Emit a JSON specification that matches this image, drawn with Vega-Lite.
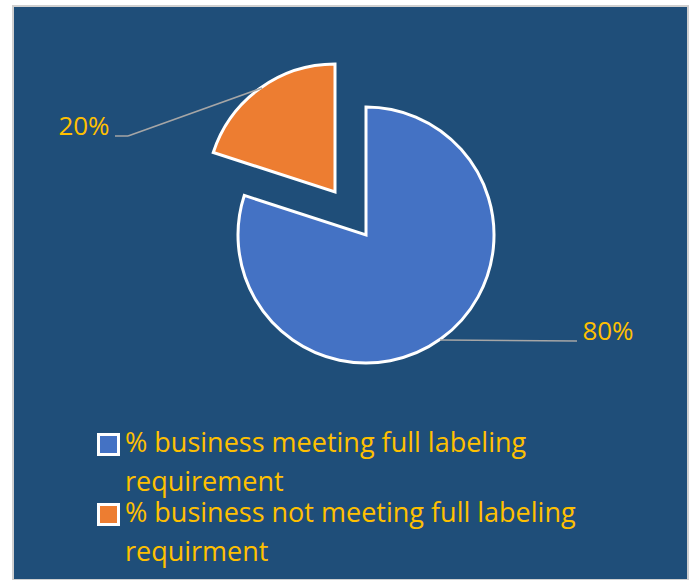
{
  "$schema": "https://vega.github.io/schema/vega-lite/v6.json",
  "width": 696,
  "height": 580,
  "autosize": {"type": "fit", "contains": "padding"},
  "padding": {"left": 13, "top": 6, "right": 8, "bottom": 0},
  "background": "white",
  "config": {
    "view": {"fill": "#1F4E79", "stroke": "#D0D0D0", "strokeWidth": 2},
    "font": "Open Sans"
  },
  "data": {
    "values": [
      {"category": "% business meeting full labeling requirement", "value": 80},
      {"category": "% business not meeting full labeling requirment", "value": 20}
    ]
  },
  "transform": [{"stack": "value", "groupby": [], "as": ["v0", "v1"]}],
  "layer": [
    {
      "transform": [{"filter": "datum.value == 80"}],
      "mark": {"type": "arc", "radius": 128, "stroke": "white", "strokeWidth": 3, "xOffset": 15.5, "yOffset": -58},
      "encoding": {
        "theta": {"field": "v0", "type": "quantitative", "scale": {"domain": [0, 100]}},
        "theta2": {"field": "v1"},
        "color": {
          "field": "category", "type": "nominal",
          "scale": {
            "domain": ["% business meeting full labeling requirement", "% business not meeting full labeling requirment"],
            "range": ["#4472C4", "#ED7D31"]
          },
          "legend": {
            "orient": "none", "legendX": 82, "legendY": 425,
            "title": null,
            "symbolType": "square", "symbolSize": 400,
            "symbolStrokeColor": "white", "symbolStrokeWidth": 3, "symbolOpacity": 1,
            "labelFont": "Open Sans", "labelFontSize": 27, "labelColor": "#FFC000",
            "labelLimit": 1000, "labelOffset": 3,
            "labelBaseline": "top",
            "labelExpr": "split(replace(datum.label, 'labeling ', 'labeling|'), '|')",
            "rowPadding": 2,
            "encode": {"labels": {"update": {"lineHeight": {"value": 39}, "dy": {"value": -14}}}}
          }
        }
      }
    },
    {
      "transform": [{"filter": "datum.value == 20"}],
      "mark": {"type": "arc", "radius": 128, "stroke": "white", "strokeWidth": 3, "xOffset": -15.5, "yOffset": -101},
      "encoding": {
        "theta": {"field": "v0", "type": "quantitative"},
        "theta2": {"field": "v1"},
        "color": {"field": "category", "type": "nominal"}
      }
    },
    {
      "transform": [{"filter": "datum.value == 80"}],
      "mark": {"type": "text", "font": "Open Sans", "fontSize": 26, "color": "#FFC000", "align": "center", "baseline": "middle", "xOffset": 257.5, "yOffset": 39},
      "encoding": {"text": {"value": "80%"}}
    },
    {
      "transform": [{"filter": "datum.value == 20"}],
      "mark": {"type": "text", "font": "Open Sans", "fontSize": 26, "color": "#FFC000", "align": "center", "baseline": "middle", "xOffset": -266.5, "yOffset": -166},
      "encoding": {"text": {"value": "20%"}}
    },
    {
      "transform": [{"filter": "datum.value == 20"}],
      "mark": {"type": "rule", "color": "#A6A6A6", "strokeWidth": 1.5},
      "encoding": {"x": {"value": 249}, "y": {"value": 82}, "x2": {"value": 115}, "y2": {"value": 130}}
    },
    {
      "transform": [{"filter": "datum.value == 20"}],
      "mark": {"type": "rule", "color": "#A6A6A6", "strokeWidth": 1.5},
      "encoding": {"x": {"value": 115}, "y": {"value": 130}, "x2": {"value": 102}, "y2": {"value": 130}}
    },
    {
      "transform": [{"filter": "datum.value == 80"}],
      "mark": {"type": "rule", "color": "#A6A6A6", "strokeWidth": 1.5},
      "encoding": {"x": {"value": 427}, "y": {"value": 334}, "x2": {"value": 564}, "y2": {"value": 335}}
    }
  ]
}
